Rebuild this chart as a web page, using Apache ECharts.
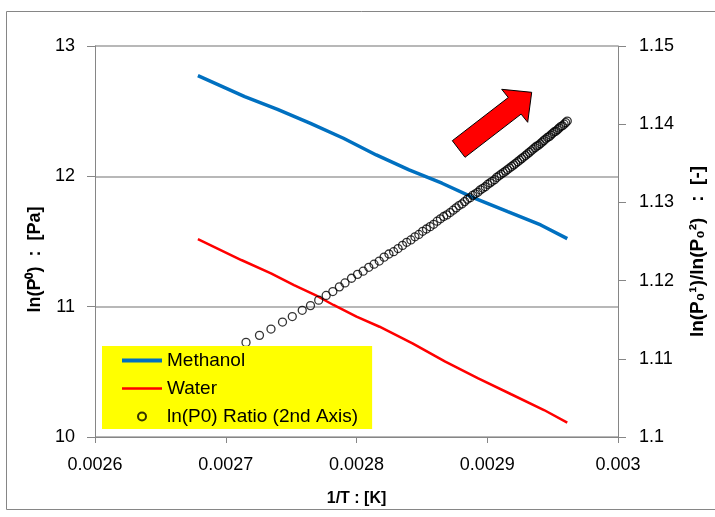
<!DOCTYPE html>
<html>
<head>
<meta charset="utf-8">
<script src="https://cdn.jsdelivr.net/npm/echarts@6/dist/echarts.min.js"></script>
<style>
  html, body { margin: 0; padding: 0; background: #fff; }
  #chart { width: 715px; height: 517px; }
</style>
</head>
<body>
<div id="chart"></div>
<script>
// 1/T values for the vapour pressure lines
const methanolX = [0.0026787, 0.0027145, 0.0027396, 0.0027648, 0.0027900, 0.0028151,
  0.0028402, 0.0028654, 0.0028906, 0.0029157, 0.0029409, 0.0029612];
const methanolY = [12.772, 12.611, 12.514, 12.407, 12.292, 12.164,
  12.049, 11.947, 11.831, 11.729, 11.627, 11.522];

const waterX = [0.0026787, 0.0027119, 0.0027346, 0.0027522, 0.0027698, 0.0027824, 0.0028000,
  0.0028176, 0.0028428, 0.0028679, 0.0028931, 0.0029183, 0.0029434, 0.0029612];
const waterY = [11.519, 11.358, 11.256, 11.166, 11.082, 11.013, 10.923,
  10.846, 10.719, 10.578, 10.450, 10.328, 10.207, 10.110];

// ratio points (2nd axis)
const ratioX = [
  0.0026780, 0.0026920, 0.0027040, 0.0027155, 0.0027258, 0.0027346, 0.0027434, 0.0027509,
  0.0027585, 0.0027648, 0.0027711, 0.0027768, 0.0027819, 0.0027869, 0.0027912, 0.0027962,
  0.0028008, 0.0028051, 0.0028094, 0.0028134, 0.0028174, 0.0028211, 0.0028248, 0.0028284,
  0.0028318, 0.0028352, 0.0028384, 0.0028416, 0.0028447, 0.0028477, 0.0028506, 0.0028535,
  0.0028563, 0.0028590, 0.0028617, 0.0028642, 0.0028667, 0.0028691, 0.0028716, 0.0028739,
  0.0028762, 0.0028784, 0.0028806, 0.0028827, 0.0028848, 0.0028869, 0.0028889, 0.0028909,
  0.0028928, 0.0028947, 0.0028966, 0.0028985, 0.0029003, 0.0029021, 0.0029038, 0.0029056,
  0.0029073, 0.0029090, 0.0029106, 0.0029123, 0.0029140, 0.0029155, 0.0029171, 0.0029187,
  0.0029203, 0.0029218, 0.0029233, 0.0029248, 0.0029263, 0.0029278, 0.0029293, 0.0029307,
  0.0029322, 0.0029336, 0.0029350, 0.0029365, 0.0029378, 0.0029392, 0.0029405, 0.0029419,
  0.0029432, 0.0029446, 0.0029460, 0.0029473, 0.0029485, 0.0029498, 0.0029511, 0.0029524,
  0.0029537, 0.0029549, 0.0029562, 0.0029575, 0.0029588, 0.0029600, 0.0029612];
const ratioY = [
  1.1085, 1.1098, 1.1110, 1.1121, 1.1130, 1.1138, 1.1147, 1.1154,
  1.1162, 1.1168, 1.1175, 1.1181, 1.1186, 1.1192, 1.1197, 1.1203,
  1.1208, 1.1212, 1.1217, 1.1221, 1.1225, 1.1230, 1.1234, 1.1237,
  1.1241, 1.1245, 1.1249, 1.1252, 1.1256, 1.1259, 1.1263, 1.1266,
  1.1269, 1.1272, 1.1276, 1.1279, 1.1282, 1.1284, 1.1287, 1.1290,
  1.1293, 1.1296, 1.1298, 1.1301, 1.1304, 1.1306, 1.1309, 1.1311,
  1.1313, 1.1316, 1.1318, 1.1320, 1.1323, 1.1325, 1.1327, 1.1329,
  1.1332, 1.1334, 1.1336, 1.1338, 1.1340, 1.1342, 1.1344, 1.1346,
  1.1348, 1.1350, 1.1352, 1.1354, 1.1356, 1.1358, 1.1360, 1.1362,
  1.1364, 1.1366, 1.1368, 1.1370, 1.1372, 1.1373, 1.1375, 1.1377,
  1.1379, 1.1381, 1.1383, 1.1384, 1.1386, 1.1388, 1.1390, 1.1391,
  1.1393, 1.1395, 1.1397, 1.1398, 1.1400, 1.1402, 1.1404];

const seriesNames = ['Methanol', 'Water', 'ln(P0) Ratio (2nd Axis)'];

const zip = (xs, ys) => xs.map((x, i) => [x, ys[i]]);
const font = 'Liberation Sans, Arial, sans-serif';
const axisGray = '#868686';
const blue = '#0070c0';
const red = '#ff0000';

const chart = echarts.init(document.getElementById('chart'));
const option = {
  animation: false,
  textStyle: { fontFamily: font },
  grid: { left: 95, right: 90, top: 46, bottom: 80 },
  graphic: [
    {
      type: 'rect',
      shape: { x: 6.5, y: 11.5, width: 720, height: 498 },
      style: { fill: 'none', stroke: axisGray, lineWidth: 1 },
      silent: true
    },
    {
      // red arrow annotation
      type: 'polygon',
      shape: {
        points: [[452.3, 140.7], [508.3, 97.5], [501.7, 89.3], [531.7, 92.3],
          [527.7, 122.3], [521.1, 114.1], [465, 157.3]]
      },
      style: { fill: red, stroke: '#000', lineWidth: 1 },
      z: 10
    }
  ],
  legend: {
    data: [
      { name: seriesNames[0], icon: 'path://M0,0H40V4H0Z', itemStyle: { color: blue, borderWidth: 0 } },
      { name: seriesNames[1], icon: 'path://M0,0H40V2.6H0Z', itemStyle: { color: red, borderWidth: 0 } },
      { name: seriesNames[2], icon: 'circle' }
    ],
    orient: 'vertical',
    left: 102,
    top: 346,
    backgroundColor: '#ffff00',
    padding: [5, 14, 3, 20],
    itemWidth: 40,
    itemHeight: 8,
    itemGap: 9,
    textStyle: { fontSize: 19, color: '#000', fontFamily: font },
    z: 5
  },
  xAxis: {
    type: 'value',
    min: 0.0026,
    max: 0.003,
    interval: 0.0001,
    name: '1/T : [K]',
    nameLocation: 'middle',
    nameGap: 54,
    nameTextStyle: { fontSize: 16, fontWeight: 'bold', color: '#000' },
    axisLine: { lineStyle: { color: axisGray } },
    axisTick: { length: 6, lineStyle: { color: axisGray } },
    axisLabel: {
      fontSize: 18, color: '#000', margin: 19,
      formatter: v => String(+v.toFixed(4))
    },
    splitLine: { show: false }
  },
  yAxis: [
    {
      type: 'value',
      min: 10,
      max: 13,
      interval: 1,
      name: 'ln(P⁰)  :  [Pa]',
      nameLocation: 'middle',
      nameGap: 51,
      nameTextStyle: { fontSize: 18, fontWeight: 'bold', color: '#000', padding: [0, 36, 0, 0] },
      axisLine: { show: true, lineStyle: { color: axisGray } },
      axisTick: { show: true, length: 8, lineStyle: { color: axisGray } },
      axisLabel: { fontSize: 18, color: '#000', margin: 20 },
      splitLine: { show: true, lineStyle: { color: '#a0a0a0', width: 1.5 } }
    },
    {
      type: 'value',
      min: 1.1,
      max: 1.15,
      interval: 0.01,
      position: 'right',
      name: 'ln(P₀¹)/ln(P₀²)   :  [-]',
      nameLocation: 'middle',
      nameGap: 70,
      nameTextStyle: { fontSize: 19, fontWeight: 'bold', color: '#000', padding: [0, 20, 0, 0] },
      axisLine: { show: true, lineStyle: { color: axisGray } },
      axisTick: { show: true, length: 8, lineStyle: { color: axisGray } },
      axisLabel: {
        fontSize: 18, color: '#000', margin: 21,
        formatter: v => String(+v.toFixed(2))
      },
      splitLine: { show: false }
    }
  ],
  series: [
    {
      name: seriesNames[0],
      type: 'line',
      symbol: 'none',
      data: zip(methanolX, methanolY),
      lineStyle: { color: blue, width: 3.5 },
      itemStyle: { color: blue },
      z: 2
    },
    {
      name: seriesNames[1],
      type: 'line',
      symbol: 'none',
      data: zip(waterX, waterY),
      lineStyle: { color: red, width: 2.5 },
      itemStyle: { color: red },
      z: 2
    },
    {
      name: seriesNames[2],
      type: 'scatter',
      yAxisIndex: 1,
      symbol: 'circle',
      symbolSize: 8,
      data: zip(ratioX, ratioY),
      itemStyle: { color: 'rgba(255,255,255,0)', borderColor: '#000', borderWidth: 1.3 },
      z: 3
    }
  ]
};
chart.setOption(option);
</script>
</body>
</html>
